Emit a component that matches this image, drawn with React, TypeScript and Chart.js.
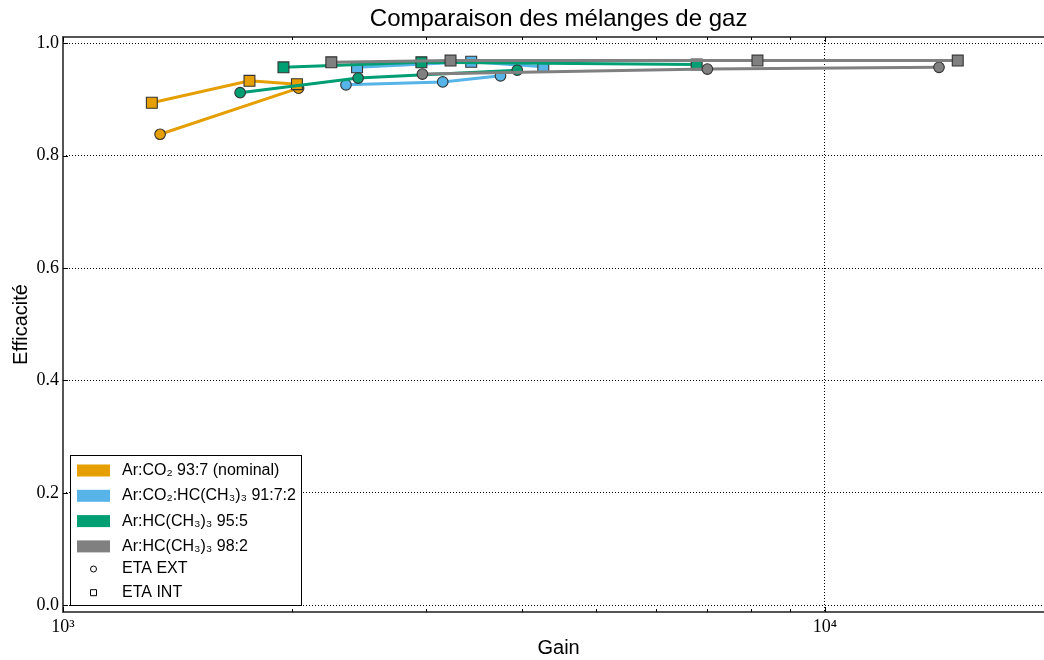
import React, { useEffect, useRef } from "react";
import { Chart, registerables } from "chart.js";

Chart.register(...registerables);

const titleText = "Comparaison des mélanges de gaz";
const xTitle = "Gain";
const yTitle = "Efficacité";

const seriesNames = [
  "Ar:CO₂ 93:7 (nominal)",
  "Ar:CO₂:HC(CH₃)₃ 91:7:2",
  "Ar:HC(CH₃)₃ 95:5",
  "Ar:HC(CH₃)₃ 98:2",
];
const seriesColors = ["#E69F00", "#56B4E9", "#009E73", "#808080"];
const markerNames = ["ETA EXT", "ETA INT"];

// Ar:CO2 93:7
const co2ExtGain = [1341, 2038];
const co2ExtEff = [0.838, 0.92];
const co2IntGain = [1308, 1757, 2028];
const co2IntEff = [0.894, 0.933, 0.927];
// Ar:CO2:HC(CH3)3 91:7:2
const mixExtGain = [2352, 3151, 3752];
const mixExtEff = [0.926, 0.931, 0.942];
const mixIntGain = [2432, 3434, 4270];
const mixIntEff = [0.957, 0.967, 0.958];
// Ar:HC(CH3)3 95:5
const iso5ExtGain = [1708, 2440, 3947];
const iso5ExtEff = [0.912, 0.938, 0.952];
const iso5IntGain = [1947, 2954, 6788];
const iso5IntEff = [0.957, 0.966, 0.962];
// Ar:HC(CH3)3 98:2
const iso2ExtGain = [2963, 7011, 14120];
const iso2ExtEff = [0.945, 0.954, 0.957];
const iso2IntGain = [2250, 3226, 8157, 14943];
const iso2IntEff = [0.966, 0.969, 0.969, 0.969];

const xMin = 1000;
const xMax = 20000;
const yMin = -0.012;
const yMax = 1.011;
const xTickValues = [1000, 2000, 3000, 4000, 5000, 6000, 7000, 8000, 9000, 10000, 20000];
const xMajorTicks = [1000, 10000];
const xMajorLabels = ["10³", "10⁴"];
const yTickValues = [0, 0.2, 0.4, 0.6, 0.8, 1.0];

const toPoints = (xs: number[], ys: number[]) => xs.map((x, i) => ({ x, y: ys[i] }));

const groups = [
  [co2ExtGain, co2ExtEff, co2IntGain, co2IntEff],
  [mixExtGain, mixExtEff, mixIntGain, mixIntEff],
  [iso5ExtGain, iso5ExtEff, iso5IntGain, iso5IntEff],
  [iso2ExtGain, iso2ExtEff, iso2IntGain, iso2IntEff],
];

function buildDatasets() {
  const ds: any[] = [];
  groups.forEach((g, gi) => {
    const c = seriesColors[gi];
    ds.push({
      label: seriesNames[gi] + " EXT",
      data: toPoints(g[0], g[1]),
      showLine: true,
      borderColor: c,
      borderWidth: 3,
      pointStyle: "circle",
      pointRadius: 5.3,
      pointBackgroundColor: c,
      pointBorderColor: "#333",
      pointBorderWidth: 1.1,
    });
    ds.push({
      label: seriesNames[gi] + " INT",
      data: toPoints(g[2], g[3]),
      showLine: true,
      borderColor: c,
      borderWidth: 3,
      pointStyle: "rect",
      pointRadius: 7.7,
      pointBackgroundColor: c,
      pointBorderColor: "#333",
      pointBorderWidth: 1.1,
    });
  });
  const n = ds.length;
  ds.forEach((d, i) => (d.order = n - 1 - i));
  return ds;
}

const decorPlugin = {
  id: "decor",
  afterDraw(chart: any) {
    const { ctx, chartArea: a, scales } = chart;
    const xs = scales.x;
    const ys = scales.y;
    ctx.save();
    // title
    ctx.fillStyle = "#000";
    ctx.font = '24px "Liberation Sans", Arial, sans-serif';
    ctx.textAlign = "center";
    ctx.textBaseline = "middle";
    ctx.fillText(titleText, (a.left + a.right) / 2, 19);

    // spines
    ctx.strokeStyle = "#555";
    ctx.lineWidth = 2;
    ctx.strokeRect(a.left, a.top, a.right - a.left, a.bottom - a.top);

    // inward ticks
    ctx.strokeStyle = "#000";
    ctx.lineWidth = 1;
    ctx.beginPath();
    yTickValues.forEach((v) => {
      const y = Math.round(ys.getPixelForValue(v)) + 0.5;
      ctx.moveTo(a.left, y);
      ctx.lineTo(a.left + 5, y);
      ctx.moveTo(a.right, y);
      ctx.lineTo(a.right - 5, y);
    });
    xTickValues.forEach((v) => {
      const x = Math.round(xs.getPixelForValue(v)) + 0.5;
      const len = xMajorTicks.includes(v) ? 5 : 3;
      ctx.moveTo(x, a.bottom);
      ctx.lineTo(x, a.bottom - len);
      ctx.moveTo(x, a.top);
      ctx.lineTo(x, a.top + len);
    });
    ctx.stroke();

    // legend
    const bx = a.left + 7;
    const bw = 231;
    const bh = 150;
    const by = a.bottom - 7 - bh;
    ctx.fillStyle = "#fff";
    ctx.fillRect(bx, by, bw, bh);
    ctx.strokeStyle = "#000";
    ctx.lineWidth = 1;
    ctx.strokeRect(bx + 0.5, by + 0.5, bw, bh);
    ctx.font = '16px "Liberation Sans", Arial, sans-serif';
    ctx.textAlign = "left";
    ctx.textBaseline = "middle";
    const rowY = [15.5, 40.8, 66.1, 91.4, 114, 137.7];
    seriesNames.forEach((name, i) => {
      const cy = by + rowY[i];
      ctx.fillStyle = seriesColors[i];
      ctx.fillRect(bx + 7, cy - 6, 33, 12);
      ctx.fillStyle = "#000";
      ctx.fillText(name, bx + 52, cy);
    });
    markerNames.forEach((name, i) => {
      const cy = by + rowY[4 + i];
      const mx = bx + 23.5;
      ctx.fillStyle = "#fff";
      ctx.strokeStyle = "#000";
      ctx.beginPath();
      if (i === 0) ctx.arc(mx, cy, 3, 0, Math.PI * 2);
      else ctx.rect(mx - 3, cy - 3, 6, 6);
      ctx.fill();
      ctx.stroke();
      ctx.fillStyle = "#000";
      ctx.fillText(name, bx + 52, cy);
    });
    ctx.restore();
  },
};

export default function App() {
  const ref = useRef<HTMLCanvasElement>(null);
  useEffect(() => {
    const chart = new Chart(ref.current as HTMLCanvasElement, {
      type: "scatter",
      data: { datasets: buildDatasets() },
      options: {
        animation: false,
        responsive: false,
        devicePixelRatio: 1,
        layout: { padding: { top: 37, right: 0, bottom: 0, left: 0 } },
        plugins: { legend: { display: false }, tooltip: { enabled: false }, title: { display: false } },
        scales: {
          x: {
            type: "logarithmic",
            min: xMin,
            max: xMax,
            afterBuildTicks: (s: any) => {
              s.ticks = xTickValues.map((v) => ({ value: v }));
            },
            afterFit: (s: any) => {
              s.height = 48;
            },
            border: { display: false, dash: [1, 2] },
            grid: {
              drawTicks: false,
              color: (c: any) => (c.tick && xMajorTicks.includes(c.tick.value) ? "#000" : "rgba(0,0,0,0)"),
              lineWidth: 1,
            },
            ticks: {
              autoSkip: false,
              maxRotation: 0,
              padding: 4,
              color: "#000",
              font: { family: '"Liberation Serif", "DejaVu Serif", serif', size: 18 },
              callback: (v: any) => {
                const i = xMajorTicks.indexOf(Number(v));
                return i >= 0 ? xMajorLabels[i] : "";
              },
            },
            title: {
              display: true,
              text: xTitle,
              color: "#000",
              font: { family: '"Liberation Sans", Arial, sans-serif', size: 20 },
              padding: { top: 1, bottom: 0 },
            },
          },
          y: {
            type: "linear",
            min: yMin,
            max: yMax,
            afterBuildTicks: (s: any) => {
              s.ticks = yTickValues.map((v) => ({ value: v }));
            },
            afterFit: (s: any) => {
              s.width = 63;
            },
            border: { display: false, dash: [1, 2] },
            grid: {
              drawTicks: false,
              color: "#000",
              lineWidth: 1,
            },
            ticks: {
              padding: 4,
              color: "#000",
              font: { family: '"Liberation Serif", "DejaVu Serif", serif', size: 18 },
              callback: (v: any) => Number(v).toFixed(1),
            },
            title: {
              display: true,
              text: yTitle,
              color: "#000",
              font: { family: '"Liberation Sans", Arial, sans-serif', size: 20 },
              padding: { top: 9, bottom: 0 },
            },
          },
        },
      } as any,
      plugins: [decorPlugin],
    });
    return () => chart.destroy();
  }, []);
  return (
    <div
      style={{
        position: "fixed",
        left: 0,
        top: 0,
        width: 1044,
        height: 660,
        overflow: "hidden",
        background: "#fff",
      }}
    >
      <canvas ref={ref} width={1063} height={660} style={{ width: 1063, height: 660, display: "block" }} />
    </div>
  );
}
